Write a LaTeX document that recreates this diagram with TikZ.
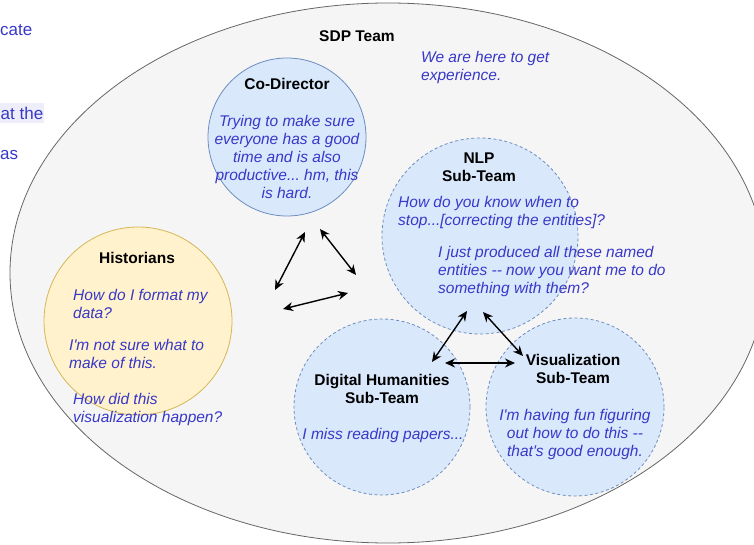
\documentclass[tikz,border=0pt]{standalone}
\usepackage{fontspec}
\setmainfont{Liberation Sans}[Ligatures=TeXOff]
\usepackage{tikz}
\usetikzlibrary{arrows,arrows.meta,positioning,calc,shapes.geometric}
\definecolor{sdpfill}{HTML}{F5F5F5}
\definecolor{sdpline}{HTML}{666666}
\definecolor{teamfill}{HTML}{DAE8FC}
\definecolor{teamline}{HTML}{6C8EBF}
\definecolor{histfill}{HTML}{FFF2CC}
\definecolor{histline}{HTML}{D6B656}
\definecolor{saidblue}{HTML}{3838C8}
\definecolor{marked}{HTML}{EEEEFA}
\newcommand{\sdpsize}{\fontsize{15.5}{18}\selectfont}
\tikzstyle{team}=[draw=teamline,fill=teamfill,circle,inner sep=0pt,line width=0.8pt]
\tikzstyle{subteam}=[team,dash pattern=on 3pt off 2.5pt]
\tikzstyle{head}=[font=\sdpsize\bfseries,align=center,inner sep=0pt]
\tikzstyle{said}=[text=saidblue,font=\sdpsize\itshape,inner sep=0pt]
\tikzstyle{note}=[text=saidblue,font=\fontsize{17}{20}\selectfont,inner sep=0pt]
\tikzstyle{both}=[{Stealth[length=10pt,width=9pt]}-{Stealth[length=10pt,width=9pt]},line width=1.4pt]

\begin{document}
\frenchspacing
\begin{tikzpicture}[x=1pt,y=-1pt]
\useasboundingbox (0,0) rectangle (754,545);
\node [ellipse,draw=sdpline,fill=sdpfill,line width=0.8pt,minimum width=756pt,minimum height=540pt] (sdp) at (388,273) {};
\node [head] (sdptitle) at (357,36) {SDP Team};
\node [said,align=left,anchor=west] (sdpsaid) at (421,67) {We are here to get\\experience.};

% cut-off notes on the left
\node [note,anchor=west] (notea) at (0,30) {cate};
\node [note,anchor=west,fill=marked,inner xsep=0.5pt,minimum height=20pt] (noteb) at (0,113) {at the};
\node [note,anchor=west] (notec) at (0,155) {as};

% the groups
\node [team,minimum size=158pt] (cod) at (287,137) {};
\node [team,draw=histline,fill=histfill,minimum size=188pt] (hist) at (138,321) {};
\node [subteam,minimum size=196pt] (nlp) at (480,236) {};
\node [subteam,minimum size=176pt] (dh) at (382,407) {};
\node [subteam,minimum size=178pt] (vis) at (575,407) {};

\node [head] (codtitle) at (287,84) {Co-Director};
\node [said,align=center] (codsaid) at (287,157) {Trying to make sure\\everyone has a good\\time and is also\\productive... hm, this\\is hard.};

\node [head] (histtitle) at (137,258) {Historians};
\node [said,align=left,anchor=west] (histsaida) at (73,304) {How do I format my\\data?};
\node [said,align=left,anchor=west] (histsaidb) at (69,354) {I'm not sure what to\\make of this.};
\node [said,align=left,anchor=west] (histsaidc) at (73,409) {How did this\\visualization happen?};

\node [head] (nlptitle) at (479,167) {NLP\\Sub-Team};
\node [said,align=left,anchor=west] (nlpsaida) at (398,212) {How do you know when to\\stop...[correcting the entities]?};
\node [said,align=left,anchor=west] (nlpsaidb) at (438,271) {I just produced all these named\\entities -- now you want me to do\\something with them?};

\node [head] (dhtitle) at (382,389) {Digital Humanities\\Sub-Team};
\node [said] (dhsaid) at (383,435) {I miss reading papers...};

\node [head] (vistitle) at (573,369) {Visualization\\Sub-Team};
\node [said,align=center] (vissaid) at (575,434) {I'm having fun figuring\\out how to do this --\\that's good enough.};

% arrows
\coordinate (a1) at (305,232); \coordinate (a2) at (275,290);
\coordinate (b1) at (320,229); \coordinate (b2) at (356,275);
\coordinate (c1) at (283,309); \coordinate (c2) at (348,293);
\coordinate (d1) at (467,311); \coordinate (d2) at (432,362);
\coordinate (e1) at (483,312); \coordinate (e2) at (523,356);
\coordinate (f1) at (445,363); \coordinate (f2) at (515,363);
\draw [both] (a1) -- (a2);
\draw [both] (b1) -- (b2);
\draw [both] (c1) -- (c2);
\draw [both] (d1) -- (d2);
\draw [both] (e1) -- (e2);
\draw [both] (f1) -- (f2);
\end{tikzpicture}
\end{document}
